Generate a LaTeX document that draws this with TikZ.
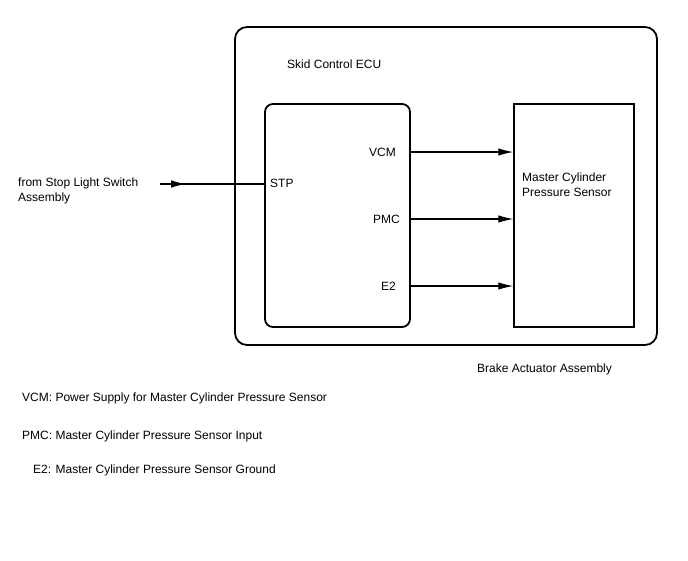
\documentclass[tikz,border=0pt]{standalone}
\usepackage{fontspec}
\setmainfont{Liberation Sans}
\usetikzlibrary{arrows.meta}

\begin{document}
\begin{tikzpicture}[x=1pt, y=-1pt,
	every node/.style={font=\fontsize{12}{15}\selectfont, inner sep=0pt},
	sig/.style={-{Latex[length=15pt,width=7.5pt]}, line width=1.1pt}]
		\useasboundingbox (0,0) rectangle (688,560);

		\node[draw, line width=1.8pt, rounded corners=12pt, minimum width=422pt, minimum height=318pt] (actuator) at (446,186) {};
		\node[draw, line width=1.8pt, rounded corners=8pt, minimum width=145pt, minimum height=223pt] (ecu) at (337.5,215.5) {};
		\node[draw, line width=1.4pt, minimum width=120pt, minimum height=223pt] (sensor) at (574,215.5) {};

		\node[anchor=west] (ecutitle) at (287,64) {Skid Control ECU};
		\node[anchor=west] (acttitle) at (477,369) {Brake Actuator Assembly};
		\node[anchor=west, align=left] (sensortext) at (522,184.5) {Master Cylinder\\Pressure Sensor};

		\node[anchor=west] (stp) at (270,183) {STP};
		\node[anchor=east] (vcm) at (396,152) {VCM};
		\node[anchor=east] (pmc) at (400,219) {PMC};
		\node[anchor=east] (etwo) at (396,286) {E2};

		\draw[sig] (ecu.east |- vcm) -- (sensor.west |- vcm);
		\draw[sig] (ecu.east |- pmc) -- (sensor.west |- pmc);
		\draw[sig] (ecu.east |- etwo) -- (sensor.west |- etwo);

		\node[anchor=west, align=left] (source) at (18,190.5) {from Stop Light Switch\\Assembly};
		\coordinate (srcstart) at (160,184);
		\coordinate (srctip) at (186,184);
		\draw[line width=1.1pt] (srcstart) -- (ecu.west |- srctip);
		\draw[sig] (srcstart) -- (srctip);

		\node[anchor=west] (legvcm) at (22,398) {VCM: Power Supply for Master Cylinder Pressure Sensor};
		\node[anchor=west] (legpmc) at (22,436) {PMC: Master Cylinder Pressure Sensor Input};
		\node[anchor=west] (legetwo) at (33,470) {E2: Master Cylinder Pressure Sensor Ground};
	\end{tikzpicture}
\end{document}
